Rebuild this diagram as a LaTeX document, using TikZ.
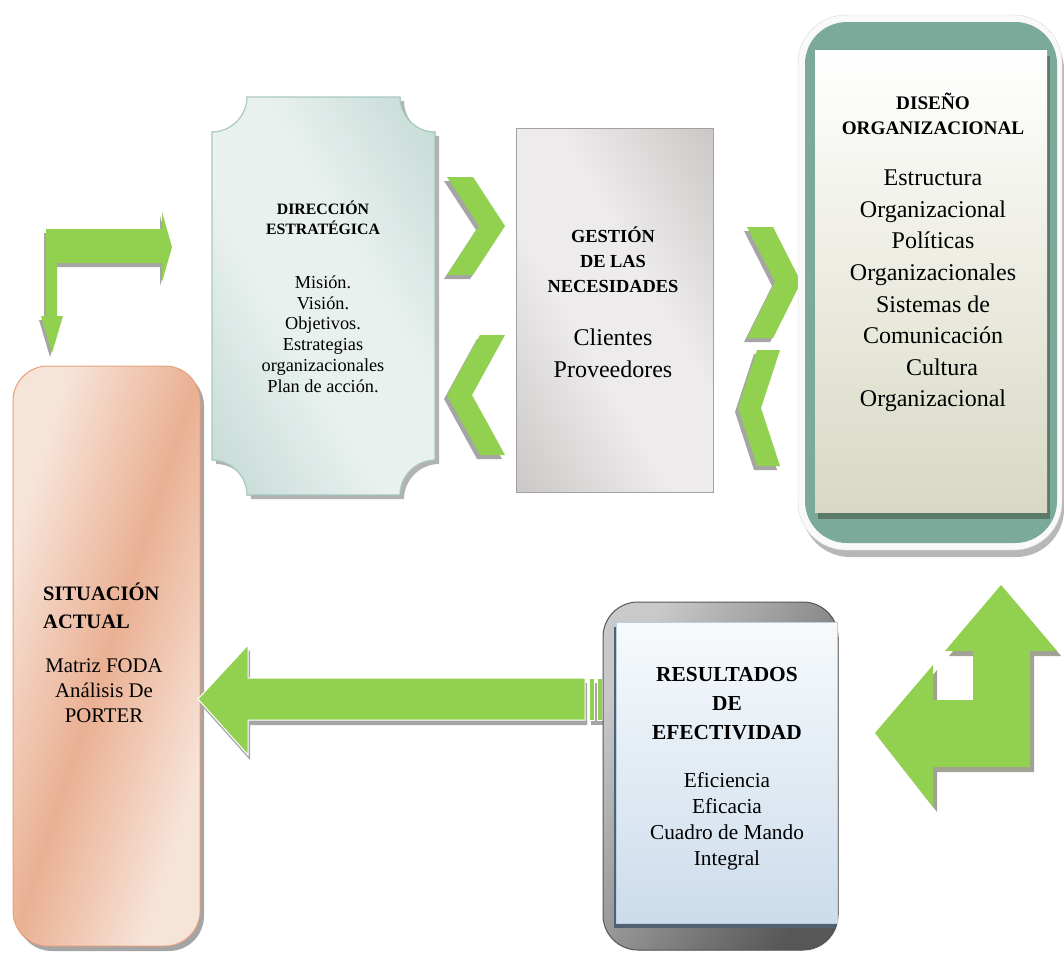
\documentclass[tikz,border=0pt]{standalone}
\usepackage{fontspec}
\setmainfont{Liberation Serif}
\definecolor{arrowgreen}{HTML}{92D050}
\definecolor{shadowgray}{HTML}{A5A5A5}
\definecolor{dirdark}{HTML}{ADCBC4}
\definecolor{dirlight}{HTML}{E9F1EF}
\definecolor{dirborder}{HTML}{A9C9C1}
\definecolor{gesdark}{HTML}{B7B2B2}
\definecolor{geslight}{HTML}{EDEBEB}
\definecolor{gesborder}{HTML}{A3A0A0}
\definecolor{disteal}{HTML}{7BA99A}
\definecolor{disbottom}{HTML}{D8D8C4}
\definecolor{disshadow}{HTML}{5B7A68}
\definecolor{sitlight}{HTML}{F7E4D9}
\definecolor{sitdark}{HTML}{EAB093}
\definecolor{sitborder}{HTML}{E8A27E}
\definecolor{resdark}{HTML}{575757}
\definecolor{reslight}{HTML}{C9C9C9}
\definecolor{restop}{HTML}{F7FAFC}
\definecolor{resbottom}{HTML}{CCDCEB}
\definecolor{resborder}{HTML}{B9CFE2}
\definecolor{resshadow}{HTML}{4F6172}
\pgfdeclarehorizontalshading{dirshade}{100bp}{color(0bp)=(dirdark); color(42bp)=(dirlight); color(58bp)=(dirlight); color(100bp)=(dirdark)}
\pgfdeclarehorizontalshading{gesshade}{100bp}{color(0bp)=(gesdark); color(42bp)=(geslight); color(58bp)=(geslight); color(100bp)=(gesdark)}
\pgfdeclarehorizontalshading{sitshade}{100bp}{color(0bp)=(sitlight); color(28bp)=(sitlight); color(50bp)=(sitdark); color(72bp)=(sitlight); color(100bp)=(sitlight)}
\newcommand{\shadowed}[3]{\fill[shadowgray,shift={#1}] #3; \fill[#2] #3;}
\tikzset{
  txt/.style={inner sep=0pt, align=center, text=black},
  hdrA/.style={txt, font={\fontsize{15.8}{20}\selectfont\bfseries}},
  bodyA/.style={txt, font={\fontsize{18.3}{20.8}\selectfont}},
  hdrB/.style={txt, font={\fontsize{18.4}{25}\selectfont\bfseries}},
  bodyB/.style={txt, font={\fontsize{24}{31.6}\selectfont}},
  hdrC/.style={txt, font={\fontsize{19.2}{24.5}\selectfont\bfseries}},
  hdrD/.style={txt, font={\fontsize{20.5}{28}\selectfont\bfseries}, align=left},
  bodyD/.style={txt, font={\fontsize{20.8}{25}\selectfont}},
  hdrE/.style={txt, font={\fontsize{21.4}{29}\selectfont\bfseries}},
  bodyE/.style={txt, font={\fontsize{21.3}{26}\selectfont}},
}
\begin{document}
\begin{tikzpicture}[x=1pt,y=-1pt]
\useasboundingbox[fill=white] (0,0) rectangle (1064,953);

% ---------- top-left bent arrow
\shadowed{(-2,4)}{arrowgreen}{(46,229) -- (162,229) -- (162,212) -- (172,247) -- (162,282) -- (162,263) -- (57,263) -- (57,316) -- (63,316) -- (52,353) -- (41,316) -- (46,316) -- cycle}

% ---------- DIRECCION box
\fill[shadowgray!85, shift={(4,4)}] (247,97) -- (400,97) .. controls (400,116) and (416,132) .. (435,132) -- (435,460) .. controls (416,460) and (400,476) .. (400,495) -- (247,495) .. controls (247,476) and (231,460) .. (212,460) -- (212,132) .. controls (231,132) and (247,116) .. (247,97) -- cycle;
\filldraw[draw=dirborder, line width=1.2pt, shading=dirshade, shading angle=30] (247,97) -- (400,97) .. controls (400,116) and (416,132) .. (435,132) -- (435,460) .. controls (416,460) and (400,476) .. (400,495) -- (247,495) .. controls (247,476) and (231,460) .. (212,460) -- (212,132) .. controls (231,132) and (247,116) .. (247,97) -- cycle;
\node[hdrA] (dirh) at (323,218) {DIRECCIÓN\\ESTRATÉGICA};
\node[bodyA] (dirb) at (323,334) {Misión.\\Visión.\\Objetivos.\\Estrategias\\organizacionales\\Plan de acción.};

% ---------- chevrons
\shadowed{(-3,4)}{arrowgreen}{(447,177) -- (473,177) -- (505,226) -- (473,275) -- (447,275) -- (479,226) -- cycle}
\shadowed{(-3,4)}{arrowgreen}{(505,335) -- (480,335) -- (447,395) -- (480,455) -- (505,455) -- (472,395) -- cycle}
\shadowed{(-3,4)}{arrowgreen}{(747,227) -- (773,227) -- (801,282) -- (773,338) -- (747,338) -- (775,282) -- cycle}
\shadowed{(-3,4)}{arrowgreen}{(780,350) -- (757,350) -- (738,408) -- (757,466) -- (780,466) -- (761,408) -- cycle}

% ---------- GESTION box
\filldraw[draw=gesborder, line width=0.8pt, shading=gesshade, shading angle=30] (516,128) rectangle (713,492);
\node[hdrB] (gesh) at (613,260) {GESTIÓN\\DE LAS\\NECESIDADES};
\node[bodyB] (gesb) at (613,353) {Clientes\\Proveedores};

% ---------- DISENO box
\fill[shadowgray!80, rounded corners=48] (802,22) rectangle (1064,557);
\filldraw[fill=white!95!gray, draw=gray!30, rounded corners=48] (798,15) rectangle (1062,550);
\fill[disteal, rounded corners=42] (805,22) rectangle (1057,543);
\fill[disshadow] (818,56) rectangle (1050,519);
\fill[top color=white, bottom color=disbottom] (815,50) rectangle (1047,512);
\node[hdrC] (dish) at (933,114) {DISEÑO\\ORGANIZACIONAL};
\node[bodyB] (disb) at (933,291) {Estructura\\Organizacional\\Políticas\\Organizacionales\\Sistemas de\\Comunicación\\\hspace*{18pt}Cultura\\Organizacional};

% ---------- SITUACION box
\fill[shadowgray, rounded corners=35] (17,371) rectangle (204,951);
\filldraw[draw=sitborder, line width=1pt, shading=sitshade, shading angle=-18, rounded corners=35] (13,366) rectangle (200,946);
\node[hdrD, anchor=west] (sith) at (43,606) {SITUACIÓN\\ACTUAL};
\node[bodyD] (sitb) at (104,691) {Matriz FODA\\Análisis De\\PORTER};

% ---------- big left arrow
\fill[shadowgray, shift={(2,5)}] (198,699) -- (248,645) -- (248,678) -- (585,678) -- (585,720) -- (248,720) -- (248,755) -- cycle;
\fill[shadowgray, shift={(2,5)}] (589,678) rectangle (602,720);
\filldraw[fill=arrowgreen, draw=white, line width=1pt] (198,699) -- (248,645) -- (248,678) -- (585,678) -- (585,720) -- (248,720) -- (248,755) -- cycle;
\filldraw[fill=arrowgreen, draw=white, line width=1pt] (589,678) rectangle (594,720);
\filldraw[fill=arrowgreen, draw=white, line width=1pt] (597,678) rectangle (602,720);

% ---------- RESULTADOS box
\filldraw[draw=resdark, line width=1pt, left color=reslight, right color=resdark, shading angle=60, rounded corners=35] (603,602) rectangle (838,950);
\fill[resshadow] (614,627) rectangle (835,928);
\filldraw[draw=resborder, line width=0.8pt, top color=restop, bottom color=resbottom] (616,622) rectangle (837,923);
\node[hdrE] (resh) at (727,704) {RESULTADOS\\DE\\EFECTIVIDAD};
\node[bodyE] (resb) at (727,821) {Eficiencia\\Eficacia\\Cuadro de Mando\\Integral};

% ---------- bottom-right L arrow
\fill[shadowgray!90!olive, shift={(4,5)}] (1001,585) -- (1057,651) -- (1030,651) -- (1030,767) -- (933,767) -- (933,807) -- (875,733) -- (933,665) -- (933,700) -- (973,700) -- (973,651) -- (945,651) -- cycle;
\fill[arrowgreen] (1001,585) -- (1057,651) -- (1030,651) -- (1030,767) -- (933,767) -- (933,807) -- (875,733) -- (933,665) -- (933,700) -- (973,700) -- (973,651) -- (945,651) -- cycle;
\end{tikzpicture}
\end{document}
